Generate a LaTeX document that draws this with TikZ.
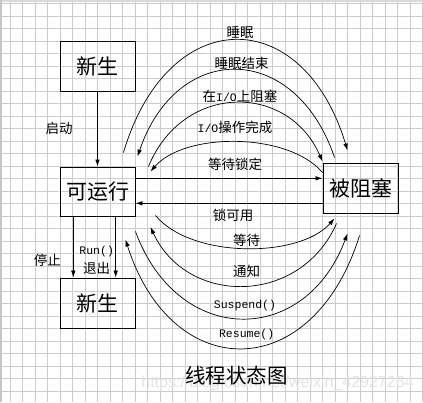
\documentclass[tikz,border=0pt]{standalone}
\usepackage{fontspec}
\newfontfamily\cjk{Noto Sans CJK SC}
\newfontfamily\lat{Liberation Mono}
\newfontfamily\wmfont{Liberation Sans}
\usetikzlibrary{arrows.meta}
\tikzset{
  gridline/.style={draw=gray!40, line width=0.6pt},
  box/.style={draw, line width=0.9pt, minimum width=75pt, minimum height=50pt, inner sep=0pt,
    font=\cjk\fontsize{21}{22}\selectfont},
  lbl/.style={inner sep=0pt, font=\cjk\fontsize{13.5}{14}\selectfont},
  mlbl/.style={inner sep=0pt, font=\lat\fontsize{11.5}{12}\selectfont},
  conn/.style={line width=0.7pt, -{Latex[length=7pt,width=4.5pt]}},
}
\begin{document}
\begin{tikzpicture}[x=1pt,y=-1pt]
\useasboundingbox (0,0) rectangle (423,402);
\fill[white] (0,0) rectangle (423,402);
% grid
\foreach \i in {0,...,33} \draw[gridline] (10+12.5*\i,0) -- (10+12.5*\i,402);
\foreach \j in {0,...,31} \draw[gridline] (0,3.3+12.5*\j) -- (423,3.3+12.5*\j);
\fill[gray!30] (0,0) rectangle (423,2);
\fill[gray!45] (0,0) rectangle (2,402);
% boxes
\node[box, minimum height=50pt] (new1) at (97.5,66) {新生};
\node[box, minimum height=49pt] (run) at (97.5,191.5) {可运行};
\node[box, minimum height=50pt] (new2) at (97.5,303) {新生};
\node[box, minimum height=50pt] (blk) at (360.5,188) {被阻塞};
% straight connectors
\draw[conn] (new1) -- (run);
\draw[conn] (run.east |- 0,178.3) -- (blk.west |- 0,178.3);
\draw[conn] (blk.west |- 0,203.3) -- (run.east |- 0,203.3);
\draw[conn] (run.south -| 73.3,0) -- (new2.north -| 73.3,0);
\draw[conn] (run.south -| 115.7,0) -- (new2.north -| 115.7,0);
% upper arcs
\draw[conn] ([shift={(-12,-14)}]run.north east) .. controls (168,3) and (303,3) .. ([shift={(25,-12)}]blk.north west);
\draw[conn] ([shift={(12,-5)}]blk.north west) .. controls (295,41) and (177,41) .. ([shift={(2,-10)}]run.north east);
\draw[conn] ([shift={(13,0)}]run.north east) .. controls (183,82.5) and (288,82.5) .. ([shift={(0,-1)}]blk.north west);
\draw[conn] ([shift={(0,10)}]blk.north west) .. controls (288,132) and (185,132) .. ([shift={(15,5)}]run.north east);
% lower arcs
\draw[conn] ([shift={(20,-1)}]run.south east) .. controls (191,258.5) and (299,258.5) .. ([shift={(12,5)}]blk.south west);
\draw[conn] ([shift={(14,10)}]blk.south west) .. controls (300,306) and (187,306) .. ([shift={(15,10.5)}]run.south east);
\draw[conn] ([shift={(0,15)}]run.south east) .. controls (178,347) and (305,347) .. ([shift={(25,20)}]blk.south west);
\draw[conn] ([shift={(37,22)}]blk.south west) .. controls (313,385) and (172,385) .. ([shift={(-10,23)}]run.south east);
% labels
\node[lbl] (l1) at (240,32) {睡眠};
\node[lbl] (l2) at (241.7,63) {睡眠结束};
\node[lbl] (l3) at (240,96.7) {在{\lat\fontsize{11.5}{12}\selectfont I/O}上阻塞};
\node[lbl] (l4) at (235,127) {{\lat\fontsize{11.5}{12}\selectfont I/O}操作完成};
\node[lbl] (l5) at (235,164) {等待锁定};
\node[lbl] (l6) at (59,128) {启动};
\node[lbl] (l7) at (233,215) {锁可用};
\node[lbl] (l8) at (246.7,240) {等待};
\node[lbl] (l9) at (246.7,271.7) {通知};
\node[mlbl] (l10) at (245,305.7) {Suspend()};
\node[mlbl] (l11) at (246.7,335) {Resume()};
\node[lbl] (l12) at (47.3,260) {停止};
\node[mlbl] (l13) at (96.7,251.7) {Run()};
\node[lbl] (l14) at (96.7,268.3) {退出};
\node[inner sep=0pt, text=gray!22, font=\wmfont\fontsize{16}{17}\selectfont] (wm) at (277.5,383) {https://blog.csdn.net/weixin\_42927264};
\node[inner sep=0pt, font=\cjk\fontsize{20.5}{22}\selectfont] (title) at (236.7,375.7) {线程状态图};
\end{tikzpicture}
\end{document}
